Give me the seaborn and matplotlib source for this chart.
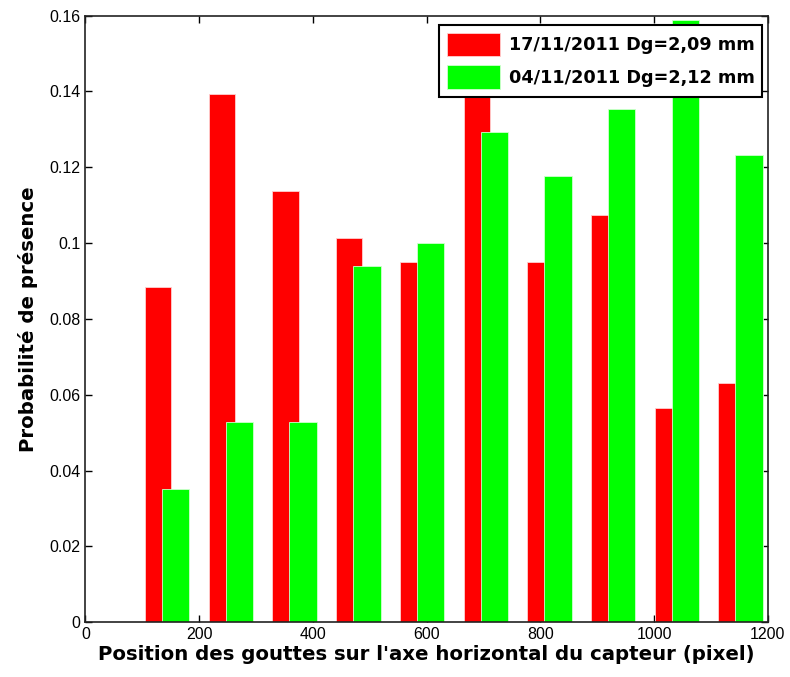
import matplotlib
matplotlib.use('Agg')
import matplotlib.pyplot as plt
import pandas as pd
import seaborn as sns

# Data
pos_red = [128, 240, 352, 464, 576, 688, 800, 912, 1024, 1136]
prob_red = [0.0884, 0.1392, 0.1137, 0.1013, 0.0950, 0.1420, 0.0950, 0.1074, 0.0566, 0.0631]
pos_green = [159, 271, 383, 495, 607, 719, 831, 943, 1055, 1167]
prob_green = [0.0350, 0.0528, 0.0528, 0.0939, 0.1000, 0.1293, 0.1177, 0.1353, 0.1587, 0.1232]
label_red = "17/11/2011 Dg=2,09 mm"
label_green = "04/11/2011 Dg=2,12 mm"
xticks = [0, 200, 400, 600, 800, 1000, 1200]
yticks = [0, 0.02, 0.04, 0.06, 0.08, 0.1, 0.12, 0.14, 0.16]
ytick_labels = ['0', '0.02', '0.04', '0.06', '0.08', '0.1', '0.12', '0.14', '0.16']

df_red = pd.DataFrame({'pos': pos_red, 'prob': prob_red})
df_green = pd.DataFrame({'pos': pos_green, 'prob': prob_green})

sns.set_style('ticks')
plt.rcParams['font.family'] = ['Liberation Sans', 'DejaVu Sans']
plt.rcParams['text.color'] = 'black'
plt.rcParams['axes.labelcolor'] = 'black'

fig = plt.figure(figsize=(7.9, 6.77), dpi=100)
ax = fig.add_axes([0.108, 0.081, 0.864, 0.896])

sns.barplot(data=df_red, x='pos', y='prob', native_scale=True, width=0.41,
            color='#ff0000', saturation=1, edgecolor='#ffd0d0', linewidth=0.6,
            errorbar=None, label=label_red, ax=ax)
sns.barplot(data=df_green, x='pos', y='prob', native_scale=True, width=0.43,
            color='#00ff00', saturation=1, edgecolor='#d0ffd0', linewidth=0.6,
            errorbar=None, label=label_green, ax=ax)

ax.set_xlim(0, 1200)
ax.set_ylim(0, 0.16)
ax.set_xticks(xticks)
ax.set_xticklabels([str(t) for t in xticks])
ax.set_yticks(yticks)
ax.set_yticklabels(ytick_labels)
ax.tick_params(direction='in', top=True, right=True, length=5, width=1,
               labelsize=11.5, colors='black')
for s in ax.spines.values():
    s.set_visible(True)
    s.set_linewidth(1.2)
    s.set_color('#222222')

ax.set_xlabel("Position des gouttes sur l'axe horizontal du capteur (pixel)",
              fontsize=14.2, fontweight='bold', family='DejaVu Sans', labelpad=2)
ax.set_ylabel("Probabilité de présence", fontsize=14.2, fontweight='bold',
              family='DejaVu Sans', labelpad=8)

leg = ax.legend(loc='upper right', bbox_to_anchor=(0.992, 0.985), frameon=True,
                fancybox=False, edgecolor='black', framealpha=1,
                prop={'family': 'DejaVu Sans', 'weight': 'bold', 'size': 12.7},
                handlelength=3.0, handleheight=1.7, borderpad=0.45,
                labelspacing=0.5, handletextpad=0.5, borderaxespad=0)
leg.get_frame().set_linewidth(1.5)

plt.savefig('out.png', dpi=100)
